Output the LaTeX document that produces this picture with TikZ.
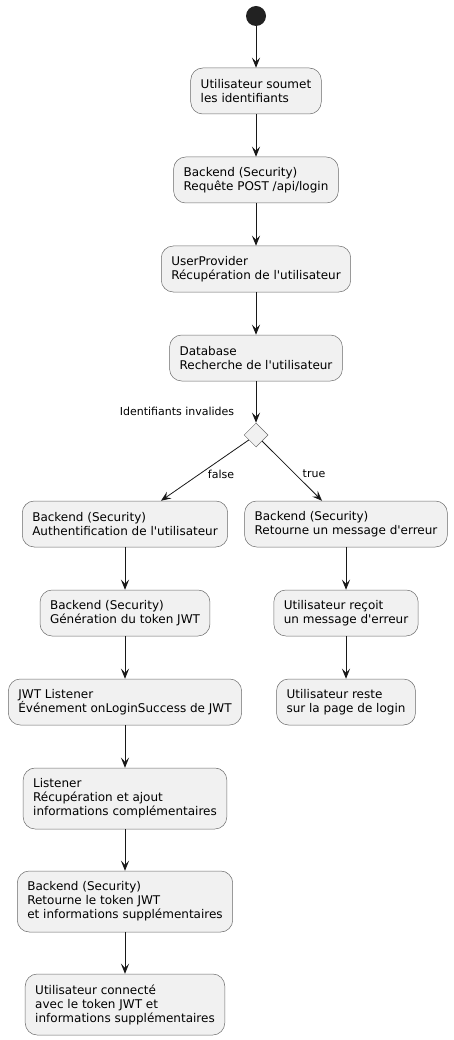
\documentclass[tikz,border=0pt]{standalone}
\usepackage{fontspec}
\setmainfont{DejaVu Sans}[Ligatures=TeXOff]
\usetikzlibrary{arrows.meta,shapes.geometric}
\definecolor{actfill}{HTML}{F1F1F1}
\definecolor{actline}{HTML}{181818}
\definecolor{startdot}{HTML}{222222}

\begin{document}
\begin{tikzpicture}[x=1pt,y=-1pt,
  act/.style={draw=actline!65, fill=actfill, line width=0.5pt, rounded corners=12pt,
    align=left, inner xsep=10pt, inner ysep=3pt, minimum height=46pt,
    font=\fontsize{12}{14}\selectfont},
  act3/.style={act, minimum height=61pt},
  flow/.style={-{Stealth[length=10pt,width=8pt,inset=4pt]}, line width=0.8pt, draw=actline},
  lbl/.style={font=\fontsize{11}{13}\selectfont, inner sep=0pt}]
\useasboundingbox (0,0) rectangle (454,1040);

% main column
\node[circle, fill=startdot, minimum size=20pt, inner sep=0pt] (start) at (256,16) {};
\node[act] (soumet) at (256,91) {Utilisateur soumet\\les identifiants};
\node[act] (post) at (256,180) {Backend (Security)\\Requête POST /api/login};
\node[act] (provider) at (256,269) {UserProvider\\Récupération de l'utilisateur};
\node[act] (database) at (256,358) {Database\\Recherche de l'utilisateur};
\node[diamond, draw=actline!65, fill=actfill, line width=0.5pt, minimum size=24pt, inner sep=0pt] (dec) at (256,435) {};
\node[lbl] (invalid) at (177,411) {Identifiants invalides};

% false branch
\node[act] (auth) at (125,524) {Backend (Security)\\Authentification de l'utilisateur};
\node[act] (gen) at (125,613) {Backend (Security)\\Génération du token JWT};
\node[act] (jwtlist) at (125,702) {JWT Listener\\Événement onLoginSuccess de JWT};
\node[act3] (listener) at (125,798.5) {Listener\\Récupération et ajout\\informations complémentaires};
\node[act3] (retok) at (125,901.5) {Backend (Security)\\Retourne le token JWT\\et informations supplémentaires};
\node[act3] (connect) at (125,1004.5) {Utilisateur connecté\\avec le token JWT et\\informations supplémentaires};

% true branch
\node[act] (err) at (346,524) {Backend (Security)\\Retourne un message d'erreur};
\node[act] (recoit) at (346,613) {Utilisateur reçoit\\un message d'erreur};
\node[act] (reste) at (346,702) {Utilisateur reste\\sur la page de login};

\node[lbl] (lfalse) at (221,474) {false};
\node[lbl] (ltrue) at (314,474) {true};

\draw[flow] (start) -- (soumet);
\draw[flow] (soumet) -- (post);
\draw[flow] (post) -- (provider);
\draw[flow] (provider) -- (database);
\draw[flow] (database) -- (dec);
\draw[flow] (dec) -- ([xshift=36pt]auth.north);
\draw[flow] (dec) -- ([xshift=-24pt]err.north);
\draw[flow] (auth) -- (gen);
\draw[flow] (gen) -- (jwtlist);
\draw[flow] (jwtlist) -- (listener);
\draw[flow] (listener) -- (retok);
\draw[flow] (retok) -- (connect);
\draw[flow] (err) -- (recoit);
\draw[flow] (recoit) -- (reste);
\end{tikzpicture}
\end{document}
